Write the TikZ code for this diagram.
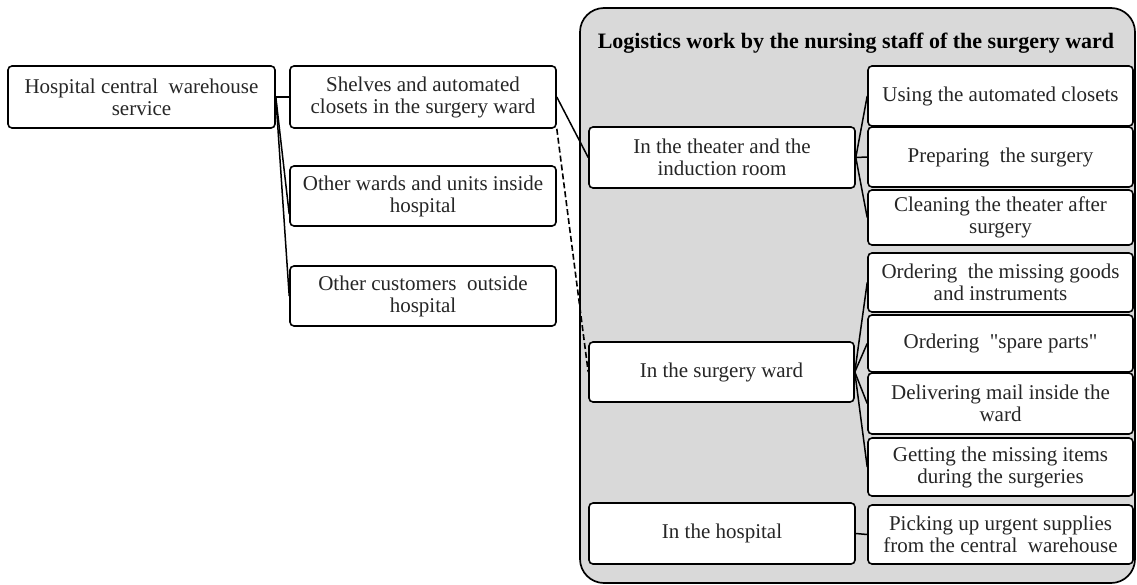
\documentclass[tikz,border=0pt]{standalone}
\usepackage{fontspec}
\setmainfont{Liberation Serif}
\newcommand{\wsp}{\hspace{0.5em}}
\begin{document}
\begin{tikzpicture}[x=1pt,y=-1pt,
  box/.style={draw=black, line width=1.6pt, rounded corners=4pt, fill=white,
    inner sep=0pt, align=center, text=black!85,
    font=\fontsize{21}{22}\selectfont},
  link/.style={draw=black, line width=1.5pt},
  dashlink/.style={draw=black, line width=1.6pt, dash pattern=on 6pt off 3pt}]
\useasboundingbox (0,0) rectangle (1137,584);

% shaded panel for the nursing staff's logistics work
\draw[line width=1.7pt, fill=black!15, rounded corners=24pt] (580,8) rectangle (1135,583);
\node[font=\bfseries\fontsize{22}{24}\selectfont] (title) at (856,43)
  {Logistics work by the nursing staff of the surgery ward};

% supply chain outside the panel
\node[box, minimum width=267pt, minimum height=62pt] (hcw) at (141.5,97)
  {Hospital central\wsp warehouse\\service};
\node[box, minimum width=266pt, minimum height=62pt] (shelves) at (423,97)
  {Shelves and automated\\closets in the surgery ward};
\node[box, minimum width=266pt, minimum height=60pt] (wards) at (423,196)
  {Other wards and units inside\\hospital};
\node[box, minimum width=266pt, minimum height=60pt] (cust) at (423,296)
  {Other customers\wsp outside\\hospital};

% places of work
\node[box, minimum width=266pt, minimum height=61pt] (theater) at (722,157.5)
  {In the theater and the\\induction room};
\node[box, minimum width=265pt, minimum height=60pt] (ward) at (721.5,372)
  {In the surgery ward};
\node[box, minimum width=266pt, minimum height=61pt] (hosp) at (722,533.5)
  {In the hospital};

% tasks
\node[box, minimum width=265pt, minimum height=60pt] (using) at (1000.5,96)
  {Using the automated closets};
\node[box, minimum width=265pt, minimum height=60pt] (prep) at (1000.5,157)
  {Preparing\wsp the surgery};
\node[box, minimum width=265pt, minimum height=55pt] (clean) at (1000.5,217.5)
  {Cleaning the theater after\\surgery};
\node[box, minimum width=265pt, minimum height=59pt] (miss) at (1000.5,282.5)
  {Ordering\wsp the missing goods\\and instruments};
\node[box, minimum width=265pt, minimum height=57pt] (spare) at (1000.5,343.5)
  {Ordering\wsp \textquotedbl spare parts\textquotedbl};
\node[box, minimum width=265pt, minimum height=61pt] (mail) at (1000.5,403.5)
  {Delivering mail inside the\\ward};
\node[box, minimum width=265pt, minimum height=58pt] (getitems) at (1000.5,467)
  {Getting the missing items\\during the surgeries};
\node[box, minimum width=265pt, minimum height=59pt] (pick) at (1000.5,534.5)
  {Picking up urgent supplies\\from the central\wsp warehouse};

% connectors
\draw[link] (hcw.east) -- (shelves.west);
\draw[link] (hcw.east) -- ([yshift=-18pt]wards.west);
\draw[link] (hcw.east) -- (cust.west);
\draw[link] (shelves.east) -- (theater.west);
\draw[dashlink] (shelves.south east) -- (ward.west);
\draw[link] (theater.east) -- (using.west);
\draw[link] (theater.east) -- (prep.west);
\draw[link] (theater.east) -- (clean.west);
\draw[link] (ward.east) -- (miss.west);
\draw[link] (ward.east) -- (spare.west);
\draw[link] (ward.east) -- (mail.west);
\draw[link] (ward.east) -- (getitems.west);
\draw[link] (hosp.east) -- (pick.west);
\end{tikzpicture}
\end{document}
